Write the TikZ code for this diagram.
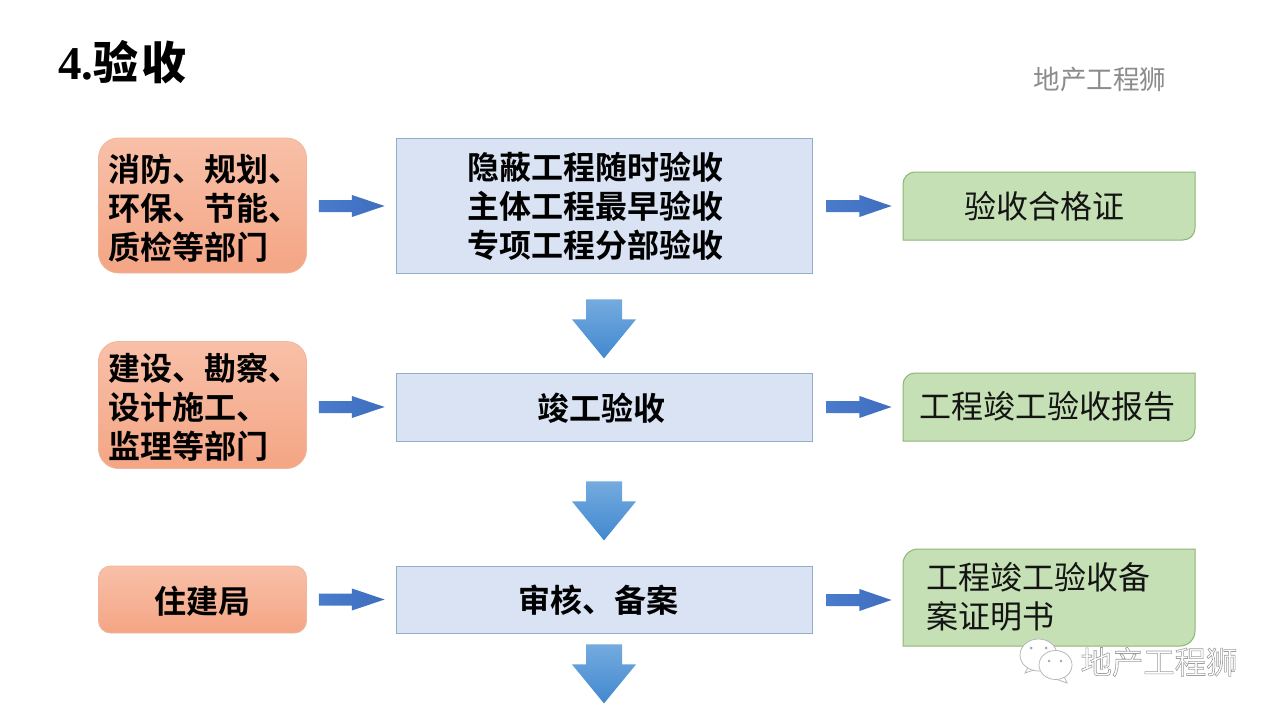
\documentclass[tikz,border=0pt]{standalone}
\usepackage{fontspec}
\usetikzlibrary{calc}
\setmainfont{Liberation Serif}
\newfontfamily\cjk{Noto Sans CJK SC}
\newfontfamily\cjkb{Noto Sans CJK SC Bold}
\definecolor{orT}{HTML}{F8C0A8}
\definecolor{orB}{HTML}{F4A584}
\definecolor{orL}{HTML}{EDB79E}
\definecolor{blF}{HTML}{DAE3F3}
\definecolor{blL}{HTML}{8FB0C8}
\definecolor{grF}{HTML}{C5E0B4}
\definecolor{grL}{HTML}{8DB574}
\definecolor{arA}{HTML}{4A7CCB}
\definecolor{arB}{HTML}{3F6DBF}
\definecolor{dnA}{HTML}{74ABDF}
\definecolor{dnB}{HTML}{4288CF}
\tikzset{
  x=1pt,y=-1pt,
  boldtext/.style={inner sep=0pt,font=\cjkb\fontsize{32}{39}\selectfont},
  orangebox/.style={rectangle,rounded corners=20pt,draw=orL,line width=0.8pt,top color=orT,bottom color=orB,minimum width=208pt,inner sep=0pt},
  bluebox/.style={rectangle,draw=blL,line width=0.8pt,fill=blF,minimum width=416pt,inner sep=0pt},
  orangetext/.style={boldtext,align=left,xshift=2pt,yshift=-2.5pt},
  bluetext/.style={boldtext,align=center},
  greenshape/.style={draw=grL,line width=1pt,fill=grF},
  greentext/.style={inner sep=0pt,align=left,font=\cjk\fontsize{32}{39}\selectfont,text=black!92},
  rightarrow/.style={left color=arA,right color=arB},
  downarrow/.style={top color=dnA,bottom color=dnB},
  bubble/.style={draw=black!30,line width=0.7pt,fill=white},
  eye/.style={fill=black!35},
}
\newcommand{\harrow}[3][12]{%
  \shade[rightarrow] ($(#2.east |- #3.west)+(#1,-6)$) -- ++(33,0) -- ++(0,-5) -- ($(#3.west)+(-11,0)$) -- ($(#2.east |- #3.west)+(#1+33,11)$) -- ++(0,-5) -- ++(-33,0) -- cycle;}
\newcommand{\darrow}[2]{%
  \shade[downarrow] ($(#1.south)+(-18,#2-59)$) -- ++(36,0) -- ++(0,20) -- ++(14,0) -- ($(#1.south)+(0,#2)$) -- ($(#1.south)+(-32,#2-39)$) -- ++(14,0) -- cycle;}
\newcommand{\greenbox}[5]{% x1,y1,x2,y2,radius
  \draw[greenshape] (#1+40,#2) [sharp corners] -- (#3,#2) -- (#3,#4-30) [rounded corners=#5pt] -- (#3,#4) -- (#3-40,#4) [sharp corners] -- (#1,#4) -- (#1,#2+30) [rounded corners=#5pt] -- (#1,#2) -- cycle;}
\begin{document}
\begin{tikzpicture}
\useasboundingbox[fill=white] (0,0) rectangle (1280,720);
% title and watermarks
\node[anchor=base west,inner sep=0pt] (title) at (58,79) {\fontsize{47}{47}\selectfont\bfseries 4.\cjkb\fontsize{45}{45}\selectfont 验\hspace{3pt}收};
\node[anchor=center,inner sep=0pt,text=black!45] (wm) at (1100,79) {\cjk\fontsize{26.6}{30}\selectfont 地产工程狮};
% left column
\node[orangebox,minimum height=135pt,label={[orangetext]center:消防、规划、\\环保、节能、\\质检等部门}] (l1) at (202.5,205.5) {};
\node[orangebox,minimum height=127pt,label={[orangetext]center:建设、勘察、\\设计施工、\\监理等部门}] (l2) at (202.5,405) {};
\node[orangebox,minimum height=67pt,rounded corners=12pt,label={[boldtext,yshift=-1.5pt]center:住建局}] (l3) at (202.5,599.5) {};
% middle column
\node[bluebox,minimum height=135pt,label={[bluetext,xshift=-9pt,yshift=-1pt]center:隐蔽工程随时验收\\主体工程最早验收\\专项工程分部验收}] (m1) at (604,205.5) {};
\node[bluebox,minimum height=68pt,label={[bluetext,xshift=-2.5pt,yshift=-1pt]center:竣工验收}] (m2) at (604,407) {};
\node[bluebox,minimum height=67pt,label={[bluetext,xshift=-6pt,yshift=-1pt]center:审核、备案}] (m3) at (604,599.5) {};
% right column
\greenbox{903}{172}{1195}{240}{12}
\greenbox{903}{373}{1195}{441}{12}
\greenbox{903}{549}{1195}{646}{15}
\node[greentext] (r1) at (1044,206.5) {验收合格证};
\node[greentext] (r2) at (1047.5,406) {工程竣工验收报告};
\node[greentext,anchor=west] (r3) at (926,597) {工程竣工验收备\\案证明书};
% horizontal arrows
\coordinate (r1w) at (902.5,206);
\coordinate (r2w) at (902.5,407);
\coordinate (r3w) at (902.5,600);
\coordinate (m1w) at ($(m1.west)+(0,0.5)$);
\coordinate (m2w) at (m2.west);
\coordinate (m3w) at (m3.west);
\harrow{l1}{m1w}\harrow{l2}{m2w}\harrow{l3}{m3w}
\harrow[14]{m1}{r1w}\harrow[14]{m2}{r2w}\harrow[14]{m3}{r3w}
% down arrows
\darrow{m1}{85}
\darrow{m2}{99}
\darrow{m3}{70}
% wechat mark
\draw[bubble] (1025,673) -- (1030,664) -- (1040,668) -- cycle;
\draw[bubble] (1038.5,655) ellipse[x radius=18.5,y radius=16];
\fill[eye] (1031,648) circle[radius=1.5];
\fill[eye] (1046,648) circle[radius=1.5];
\draw[bubble] (1067,683) -- (1063,674) -- (1053,678) -- cycle;
\draw[bubble] (1055.5,665) ellipse[x radius=16.5,y radius=14.5];
\fill[eye] (1049,661) circle[radius=1.4];
\fill[eye] (1061,661) circle[radius=1.4];
\node[anchor=center,inner sep=0pt] (wm2) at (1159,662) {\cjk\fontsize{31.4}{34}\selectfont\special{pdf:code q 2 Tr 0.6 w 0.62 G 1 g}地产工程狮\special{pdf:code Q}};
\end{tikzpicture}
\end{document}
